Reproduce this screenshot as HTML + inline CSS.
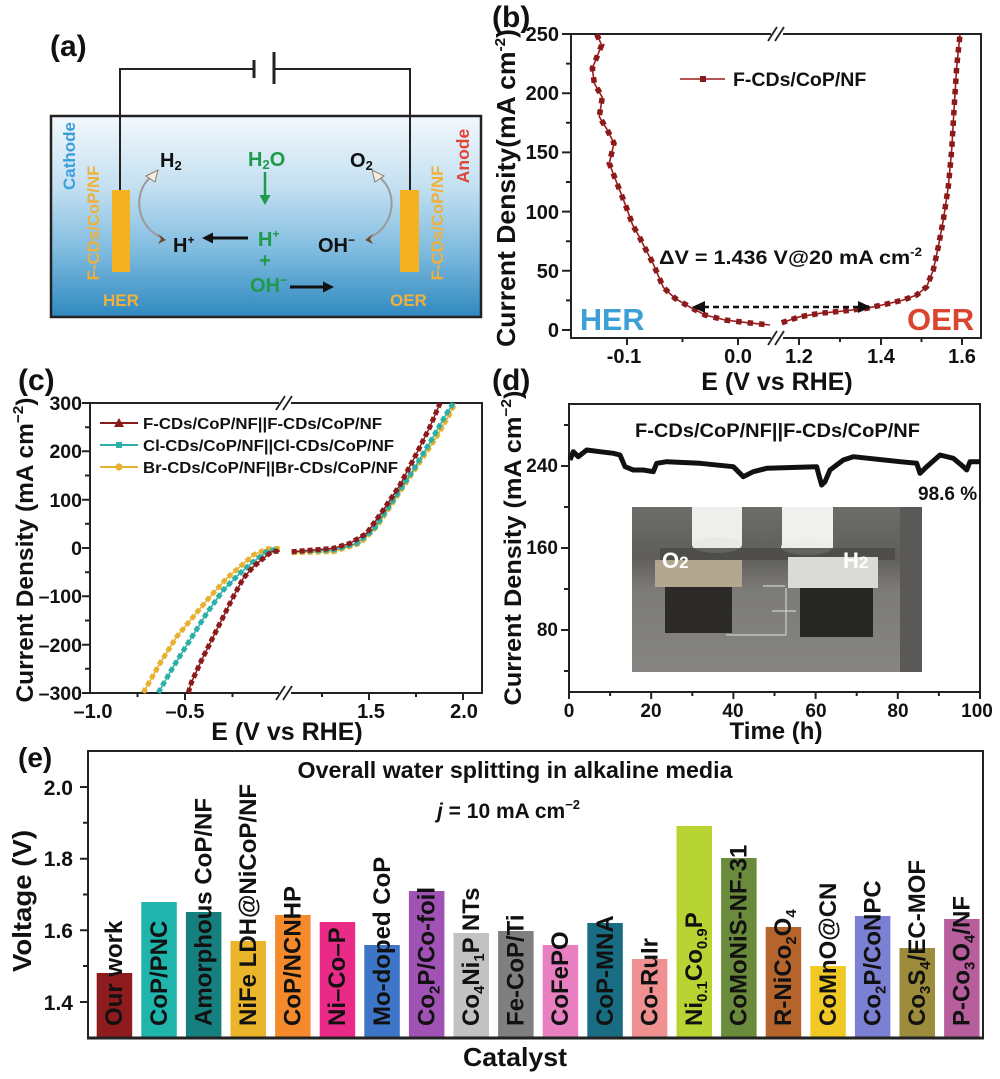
<!DOCTYPE html>
<html><head><meta charset="utf-8"><style>
html,body{margin:0;padding:0;background:#fff;}
svg{display:block;}
text{font-family:"Liberation Sans",Arial,sans-serif;font-weight:bold;fill:#111;}
</style></head><body>
<svg width="1000" height="1079" viewBox="0 0 1000 1079" xmlns="http://www.w3.org/2000/svg">
<defs>
<linearGradient id="water" x1="0" y1="0" x2="0" y2="1">
<stop offset="0" stop-color="#f3f8fc"/>
<stop offset="0.35" stop-color="#c4e0f1"/>
<stop offset="0.65" stop-color="#84bee1"/>
<stop offset="1" stop-color="#2f89c0"/>
</linearGradient>
<linearGradient id="photoBg" x1="0" y1="0" x2="0" y2="1">
<stop offset="0" stop-color="#6e6d69"/>
<stop offset="0.3" stop-color="#5f5e5a"/>
<stop offset="0.5" stop-color="#7c7b77"/>
<stop offset="1" stop-color="#868582"/>
</linearGradient>
</defs>

<!-- ============ PANEL A ============ -->
<text x="50" y="56" font-size="30">(a)</text>
<rect x="51" y="116" width="430" height="201" fill="url(#water)" stroke="#222" stroke-width="2.5"/>
<polyline points="120,190 120,69 254,69" fill="none" stroke="#222" stroke-width="2"/>
<polyline points="274,69 410,69 410,190" fill="none" stroke="#222" stroke-width="2"/>
<line x1="254" y1="60" x2="254" y2="78" stroke="#222" stroke-width="3"/>
<line x1="274" y1="52" x2="274" y2="84" stroke="#222" stroke-width="3"/>
<rect x="112" y="190" width="18" height="82" fill="#f4b223"/>
<rect x="400" y="190" width="19" height="82" fill="#f4b223"/>
<text transform="translate(75,156) rotate(-90)" text-anchor="middle" font-size="17" style="fill:#3b9fdc">Cathode</text>
<text transform="translate(99,223) rotate(-90)" text-anchor="middle" font-size="16.8" style="fill:#f0b03a">F-CDs/CoP/NF</text>
<text transform="translate(443,223) rotate(-90)" text-anchor="middle" font-size="16.8" style="fill:#f0b03a">F-CDs/CoP/NF</text>
<text transform="translate(469,156) rotate(-90)" text-anchor="middle" font-size="17.5" style="fill:#e0453a">Anode</text>
<text x="103" y="306" font-size="17" style="fill:#f0b03a">HER</text>
<text x="390" y="306" font-size="17" style="fill:#f0b03a">OER</text>
<text x="160" y="167" font-size="20">H<tspan font-size="13" dy="3">2</tspan></text>
<text x="248" y="166" font-size="20" style="fill:#1e9a4a">H<tspan font-size="13" dy="3">2</tspan><tspan dy="-3">O</tspan></text>
<line x1="265" y1="172" x2="265" y2="197" stroke="#1e9a4a" stroke-width="2.5"/>
<polygon points="259.5,195 270.5,195 265,205" fill="#1e9a4a"/>
<text x="173" y="252" font-size="20">H<tspan font-size="12" dy="-8">+</tspan></text>
<line x1="248" y1="238" x2="212" y2="238" stroke="#111" stroke-width="3"/>
<polygon points="213,232.5 213,243.5 202,238" fill="#111"/>
<text x="258" y="246" font-size="20" style="fill:#1e9a4a">H<tspan font-size="12" dy="-8">+</tspan></text>
<text x="265" y="267" font-size="20" text-anchor="middle" style="fill:#1e9a4a">+</text>
<text x="250" y="292" font-size="20" style="fill:#1e9a4a">OH<tspan font-size="12" dy="-8">−</tspan></text>
<line x1="290" y1="287" x2="324" y2="287" stroke="#111" stroke-width="3"/>
<polygon points="323,281.5 323,292.5 334,287" fill="#111"/>
<text x="318" y="252" font-size="20">OH<tspan font-size="12" dy="-8">−</tspan></text>
<text x="350" y="167" font-size="20">O<tspan font-size="13" dy="3">2</tspan></text>
<path d="M163,238 C136,228 132,192 151,177" fill="none" stroke="#9a9a9a" stroke-width="2"/>
<polygon points="146,176 158,170 155,182" fill="#f3ece2" stroke="#8a7a6a" stroke-width="1"/>
<polygon points="158,234 166,240 158,244 161,239" fill="#6b4a2e"/>
<path d="M368,238 C395,228 399,192 379,177" fill="none" stroke="#9a9a9a" stroke-width="2"/>
<polygon points="384,176 372,170 375,182" fill="#f3ece2" stroke="#8a7a6a" stroke-width="1"/>
<polygon points="373,234 365,240 373,244 370,239" fill="#6b4a2e"/>

<!-- ============ PANEL B ============ -->
<text x="492" y="27" font-size="30">(b)</text>
<rect x="571" y="34" width="410" height="304" fill="none" stroke="#222" stroke-width="2"/>
<rect x="771" y="29" width="12" height="10" fill="#fff"/>
<rect x="771" y="333" width="12" height="10" fill="#fff"/>
<path d="M768,41 L777,27 M775,41 L784,27 M768,345 L777,331 M775,345 L784,331" stroke="#222" stroke-width="1.8"/>
<path d="M571,330h-9 M571,270.8h-9 M571,211.6h-9 M571,152.4h-9 M571,93.2h-9 M571,34h-9 M571,300.4h-5 M571,241.2h-5 M571,182h-5 M571,122.8h-5 M571,63.6h-5 M627,338v7 M738,338v7 M799,338v7 M881,338v7 M962,338v7 M682.5,338v4 M840,338v4 M921.5,338v4" stroke="#222" stroke-width="2"/>
<g font-size="20" text-anchor="end">
<text x="559" y="337">0</text><text x="559" y="278">50</text><text x="559" y="219">100</text>
<text x="559" y="159">150</text><text x="559" y="100">200</text><text x="559" y="41">250</text>
</g>
<g font-size="20" text-anchor="middle">
<text x="624" y="363">-0.1</text><text x="738" y="363">0.0</text><text x="799" y="363">1.2</text>
<text x="881" y="363">1.4</text><text x="962" y="363">1.6</text>
</g>
<text x="777" y="390" font-size="25" text-anchor="middle">E (V vs RHE)</text>
<text transform="translate(515,188) rotate(-90)" text-anchor="middle" font-size="26" textLength="318" lengthAdjust="spacingAndGlyphs">Current Density(mA cm<tspan font-size="15" dy="-10">-2</tspan><tspan dy="10">)</tspan></text>
<polyline points="596.7,34.3 601.7,45 592.3,68.3 594.3,83.3 602.3,97.3 599.3,116.7 607.3,130 614,143.3 609.3,163.3 615,178.3 620.7,192.7 626.7,208.3 632.7,225 639.3,236.7 646,250 653.3,264 663.3,287.3 675,298.3 689.3,306.7 705,315 725,320 747.3,322.7 770,325" fill="none" stroke="#9b1b1f" stroke-width="1.6"/>
<polyline points="596.7,34.3 601.7,45 592.3,68.3 594.3,83.3 602.3,97.3 599.3,116.7 607.3,130 614,143.3 609.3,163.3 615,178.3 620.7,192.7 626.7,208.3 632.7,225 639.3,236.7 646,250 653.3,264 663.3,287.3 675,298.3 689.3,306.7 705,315 725,320 747.3,322.7 770,325" fill="none" stroke="#8b1a1a" stroke-width="5.5" stroke-dasharray="5.5 6"/>
<polyline points="781.7,322.7 800,316.7 820,313.3 843.3,311 866.7,308.3 886.7,304 903.3,300 916.7,295 926.7,286.7 933.3,270 938.3,246.7 943.3,220 948.3,186.7 951.7,150 954,110 956.7,66.7 960,34.3" fill="none" stroke="#9b1b1f" stroke-width="1.6"/>
<polyline points="781.7,322.7 800,316.7 820,313.3 843.3,311 866.7,308.3 886.7,304 903.3,300 916.7,295 926.7,286.7 933.3,270 938.3,246.7 943.3,220 948.3,186.7 951.7,150 954,110 956.7,66.7 960,34.3" fill="none" stroke="#8b1a1a" stroke-width="5.5" stroke-dasharray="5.5 5"/>
<line x1="680" y1="79" x2="725" y2="79" stroke="#9b1b1f" stroke-width="1.6"/>
<rect x="700" y="76" width="6" height="6" fill="#8b1a1a"/>
<text x="733" y="86" font-size="19.5">F-CDs/CoP/NF</text>
<text x="659" y="264" font-size="19.5" textLength="263" lengthAdjust="spacingAndGlyphs">ΔV = 1.436 V@20 mA cm<tspan font-size="12" dy="-8">-2</tspan></text>
<line x1="703" y1="307" x2="860" y2="307" stroke="#111" stroke-width="2.5" stroke-dasharray="6 4"/>
<polygon points="705,301 705,313 692,307" fill="#111"/>
<polygon points="858,301 858,313 871,307" fill="#111"/>
<text x="580" y="330" font-size="30.5" style="fill:#3c9fd6">HER</text>
<text x="907" y="330" font-size="31" style="fill:#d9452f">OER</text>

<!-- ============ PANEL C ============ -->
<text x="18" y="390" font-size="30">(c)</text>
<rect x="90" y="403" width="392" height="290" fill="none" stroke="#222" stroke-width="2"/>
<rect x="279" y="398" width="12" height="10" fill="#fff"/>
<rect x="279" y="688" width="12" height="10" fill="#fff"/>
<path d="M276,410 L285,396 M283,410 L292,396 M276,700 L285,686 M283,700 L292,686" stroke="#222" stroke-width="1.8"/>
<path d="M90,403h-8 M90,451.3h-8 M90,499.7h-8 M90,548h-8 M90,596.3h-8 M90,644.7h-8 M90,693h-8 M90,427.2h-5 M90,475.5h-5 M90,523.8h-5 M90,572.2h-5 M90,620.5h-5 M90,668.8h-5 M185,693v7 M369,693v7 M463,693v7 M137.5,693v4 M232.5,693v4 M322,693v4 M416,693v4" stroke="#222" stroke-width="2"/>
<g font-size="19.5" text-anchor="end">
<text x="82" y="410">300</text><text x="82" y="458">200</text><text x="82" y="507">100</text>
<text x="82" y="555">0</text><text x="82" y="603">–100</text><text x="82" y="652">–200</text><text x="82" y="700">–300</text>
</g>
<g font-size="20" text-anchor="middle">
<text x="93" y="718">–1.0</text><text x="185" y="718">–0.5</text><text x="371" y="718">1.5</text><text x="464" y="718">2.0</text>
</g>
<text x="287" y="740" font-size="25" text-anchor="middle">E (V vs RHE)</text>
<text transform="translate(33,550) rotate(-90)" text-anchor="middle" font-size="24" textLength="305" lengthAdjust="spacingAndGlyphs">Current Density (mA cm<tspan font-size="15" dy="-10">−2</tspan><tspan dy="10">)</tspan></text>
<!-- Br -->
<g fill="none" stroke="#e8b030">
<polyline stroke-width="1.5" points="143.3,692.7 160,663.3 176.7,636.7 193.3,616.7 210,596.7 226.7,578.3 240,566.7 253.3,555 266.7,549 280,548.3"/>
<polyline stroke-width="5" stroke-dasharray="5 3" points="143.3,692.7 160,663.3 176.7,636.7 193.3,616.7 210,596.7 226.7,578.3 240,566.7 253.3,555 266.7,549 280,548.3"/>
<polyline stroke-width="1.5" points="291.7,552.7 333.3,551.7 360,543.3 376.7,526.7 396.7,496.7 416.7,466.7 436.7,436.7 448.3,416.7 455,403.3"/>
<polyline stroke-width="5" stroke-dasharray="5 3" points="291.7,552.7 333.3,551.7 360,543.3 376.7,526.7 396.7,496.7 416.7,466.7 436.7,436.7 448.3,416.7 455,403.3"/>
</g>
<!-- Cl -->
<g fill="none" stroke="#2ab0a8">
<polyline stroke-width="1.5" points="158.3,692.7 173.3,666.7 190,640 206.7,613.3 223.3,590 240,573.3 253.3,561.7 266.7,551.7 276.7,549"/>
<polyline stroke-width="5" stroke-dasharray="5 3" points="158.3,692.7 173.3,666.7 190,640 206.7,613.3 223.3,590 240,573.3 253.3,561.7 266.7,551.7 276.7,549"/>
<polyline stroke-width="1.5" points="291.7,551.7 333.3,550 356.7,543.3 373.3,530 393.3,500 413.3,470 433.3,436.7 446.7,413.3 453.3,403.3"/>
<polyline stroke-width="5" stroke-dasharray="5 3" points="291.7,551.7 333.3,550 356.7,543.3 373.3,530 393.3,500 413.3,470 433.3,436.7 446.7,413.3 453.3,403.3"/>
</g>
<!-- F -->
<g fill="none" stroke="#8b1a1a">
<polyline stroke-width="1.5" points="188.3,692.7 191.7,681.7 201.7,660 213.3,636.7 223.3,616.7 233.3,596.7 243.3,578.3 253.3,566.7 263.3,558.3 271.7,551.7 280,551"/>
<polyline stroke-width="5" stroke-dasharray="5 3" points="188.3,692.7 191.7,681.7 201.7,660 213.3,636.7 223.3,616.7 233.3,596.7 243.3,578.3 253.3,566.7 263.3,558.3 271.7,551.7 280,551"/>
<polyline stroke-width="1.5" points="291.7,551.7 333.3,548.3 350,543.3 366.7,533.3 383.3,510 400,485 416.7,453.3 430,426.7 440,403.3"/>
<polyline stroke-width="5" stroke-dasharray="5 3" points="291.7,551.7 333.3,548.3 350,543.3 366.7,533.3 383.3,510 400,485 416.7,453.3 430,426.7 440,403.3"/>
</g>
<line x1="100" y1="423" x2="138" y2="423" stroke="#8b1a1a" stroke-width="2"/>
<polygon points="114,427 124,427 119,418" fill="#8b1a1a"/>
<line x1="100" y1="445" x2="138" y2="445" stroke="#2ab0a8" stroke-width="2"/>
<rect x="116" y="442" width="6" height="6" fill="#2ab0a8"/>
<line x1="100" y1="467" x2="138" y2="467" stroke="#e8b030" stroke-width="2"/>
<circle cx="119" cy="467" r="3.6" fill="#e8b030"/>
<g font-size="16">
<text x="143" y="429" textLength="239" lengthAdjust="spacingAndGlyphs">F-CDs/CoP/NF||F-CDs/CoP/NF</text>
<text x="143" y="451" textLength="251" lengthAdjust="spacingAndGlyphs">Cl-CDs/CoP/NF||Cl-CDs/CoP/NF</text>
<text x="143" y="473" textLength="255" lengthAdjust="spacingAndGlyphs">Br-CDs/CoP/NF||Br-CDs/CoP/NF</text>
</g>

<!-- ============ PANEL D ============ -->
<text x="492" y="390" font-size="30">(d)</text>
<rect x="632" y="507" width="290" height="165" fill="url(#photoBg)"/>
<rect x="900" y="507" width="22" height="165" fill="#5a5957"/>
<rect x="692" y="507" width="50" height="38" fill="#eeeeec"/>
<ellipse cx="717" cy="545" rx="25" ry="8" fill="#e8e8e6"/>
<rect x="782" y="507" width="51" height="40" fill="#f0f0ee"/>
<ellipse cx="807" cy="547" rx="26" ry="8" fill="#ececea"/>
<rect x="660" y="548" width="235" height="12" fill="#4b4a47" opacity="0.85"/>
<rect x="655" y="560" width="87" height="27" fill="#b3a78f"/>
<rect x="788" y="557" width="90" height="31" fill="#dadad7"/>
<rect x="665" y="587" width="67" height="46" fill="#2b2a28"/>
<rect x="800" y="588" width="73" height="49" fill="#262624"/>
<path d="M763,586h22 M772,611h24 M726,635h60 M786,588v47" stroke="#cfcfcc" stroke-width="1.2" fill="none"/>
<text x="662" y="568" font-size="22" style="fill:#ffffff">O<tspan font-size="17">2</tspan></text>
<text x="843" y="568" font-size="22" style="fill:#ffffff">H<tspan font-size="17">2</tspan></text>
<rect x="569" y="404" width="411" height="288" fill="none" stroke="#222" stroke-width="2"/>
<path d="M569,466h-8 M569,548h-8 M569,630h-8 M569,425h-5 M569,507h-5 M569,589h-5 M569,671h-5 M569,692v7 M651.2,692v7 M733.4,692v7 M815.6,692v7 M897.8,692v7 M980,692v7 M610.1,692v4 M692.3,692v4 M774.5,692v4 M856.7,692v4 M938.9,692v4" stroke="#222" stroke-width="2"/>
<g font-size="19" text-anchor="end">
<text x="558" y="472">240</text><text x="558" y="554">160</text><text x="558" y="636">80</text>
</g>
<g font-size="19" text-anchor="middle">
<text x="569" y="717">0</text><text x="651" y="717">20</text><text x="733" y="717">40</text>
<text x="816" y="717">60</text><text x="898" y="717">80</text><text x="977" y="717">100</text>
</g>
<text x="776" y="739" font-size="24" text-anchor="middle">Time (h)</text>
<text transform="translate(521,548) rotate(-90)" text-anchor="middle" font-size="24.5" textLength="315" lengthAdjust="spacingAndGlyphs">Current Density (mA cm<tspan font-size="15" dy="-10">−2</tspan><tspan dy="10">)</tspan></text>
<text x="635" y="437" font-size="19" textLength="285" lengthAdjust="spacingAndGlyphs">F-CDs/CoP/NF||F-CDs/CoP/NF</text>
<text x="918" y="500" font-size="19">98.6 %</text>
<polyline fill="none" stroke="#111" stroke-width="5" stroke-linejoin="round" points="570,460 573.3,451.7 578.3,456.7 586.7,450 600,451.7 613.3,453.3 620,455 625,466.7 633.3,470 643.3,470 653.3,471.7 656.7,463.3 666.7,461.7 700,463.3 733.3,466.7 743.3,476.7 753.3,471.7 766.7,468.3 816.7,466.7 819.3,476.7 821.7,485 825,481.7 830,470 843.3,460 853.3,456.7 900,461.7 916.7,463.3 920,473.3 926.7,466.7 940,455 953.3,458.3 963.3,466.7 966.7,470 970,461.7 980,461.7"/>

<!-- ============ PANEL E ============ -->
<text x="18" y="767" font-size="28">(e)</text>
<g>
<rect x="96.7" y="973" width="35.5" height="65" fill="#8e1b1e"/>
<rect x="141.3" y="902" width="35.5" height="136" fill="#1fb5ad"/>
<rect x="185.9" y="912" width="35.5" height="126" fill="#16807f"/>
<rect x="230.5" y="941" width="35.5" height="97" fill="#eab52a"/>
<rect x="275.1" y="915" width="35.5" height="123" fill="#f58a2c"/>
<rect x="319.7" y="922" width="35.5" height="116" fill="#ea2a87"/>
<rect x="364.3" y="945" width="35.5" height="93" fill="#3d75c8"/>
<rect x="408.9" y="891" width="35.5" height="147" fill="#a052b5"/>
<rect x="453.5" y="933" width="35.5" height="105" fill="#c2c2c2"/>
<rect x="498.1" y="931" width="35.5" height="107" fill="#7f7f7f"/>
<rect x="542.7" y="945" width="35.5" height="93" fill="#e87fc1"/>
<rect x="587.3" y="923" width="35.5" height="115" fill="#186d82"/>
<rect x="631.9" y="959" width="35.5" height="79" fill="#ef9191"/>
<rect x="676.5" y="826" width="35.5" height="212" fill="#b8d432"/>
<rect x="721.1" y="858" width="35.5" height="180" fill="#6a8b3b"/>
<rect x="765.7" y="927" width="35.5" height="111" fill="#b5652b"/>
<rect x="810.3" y="966" width="35.5" height="72" fill="#f0c925"/>
<rect x="854.9" y="916" width="35.5" height="122" fill="#7c80d3"/>
<rect x="899.5" y="948" width="35.5" height="90" fill="#9c8c3c"/>
<rect x="944.1" y="919" width="35.5" height="119" fill="#b95e9c"/>
</g>
<g font-size="24">
<text transform="translate(122,1026) rotate(-90)">Our work</text>
<text transform="translate(167,1026) rotate(-90)">CoP/PNC</text>
<text transform="translate(211.5,1026) rotate(-90)">Amorphous CoP/NF</text>
<text transform="translate(256,1026) rotate(-90)">NiFe LDH@NiCoP/NF</text>
<text transform="translate(300.5,1026) rotate(-90)">CoP/NCNHP</text>
<text transform="translate(345,1026) rotate(-90)">Ni–Co–P</text>
<text transform="translate(390,1026) rotate(-90)">Mo-doped CoP</text>
<text transform="translate(434.5,1026) rotate(-90)">Co<tspan font-size="15" dy="5">2</tspan><tspan dy="-5">P/Co-foil</tspan></text>
<text transform="translate(479,1026) rotate(-90)">Co<tspan font-size="15" dy="5">4</tspan><tspan dy="-5">Ni</tspan><tspan font-size="15" dy="5">1</tspan><tspan dy="-5">P NTs</tspan></text>
<text transform="translate(523.5,1026) rotate(-90)">Fe-CoP/Ti</text>
<text transform="translate(568,1026) rotate(-90)">CoFePO</text>
<text transform="translate(613,1026) rotate(-90)">CoP-MNA</text>
<text transform="translate(657.5,1026) rotate(-90)">Co-RuIr</text>
<text transform="translate(702,1026) rotate(-90)">Ni<tspan font-size="15" dy="5">0.1</tspan><tspan dy="-5">Co</tspan><tspan font-size="15" dy="5">0.9</tspan><tspan dy="-5">P</tspan></text>
<text transform="translate(746.5,1026) rotate(-90)">CoMoNiS-NF-31</text>
<text transform="translate(791,1026) rotate(-90)">R-NiCo<tspan font-size="15" dy="5">2</tspan><tspan dy="-5">O</tspan><tspan font-size="15" dy="5">4</tspan></text>
<text transform="translate(836,1026) rotate(-90)">CoMnO@CN</text>
<text transform="translate(880.5,1026) rotate(-90)">Co<tspan font-size="15" dy="5">2</tspan><tspan dy="-5">P/CoNPC</tspan></text>
<text transform="translate(925,1026) rotate(-90)">Co<tspan font-size="15" dy="5">3</tspan><tspan dy="-5">S</tspan><tspan font-size="15" dy="5">4</tspan><tspan dy="-5">/EC-MOF</tspan></text>
<text transform="translate(969.5,1026) rotate(-90)">P-Co<tspan font-size="15" dy="5">3</tspan><tspan dy="-5">O</tspan><tspan font-size="15" dy="5">4</tspan><tspan dy="-5">/NF</tspan></text>
</g>
<rect x="88" y="751" width="895" height="287" fill="none" stroke="#222" stroke-width="2"/>
<line x1="87" y1="1038" x2="984" y2="1038" stroke="#222" stroke-width="3"/>
<path d="M88,787h-8 M88,858.7h-8 M88,930.3h-8 M88,1002h-8 M88,822.8h-5 M88,894.5h-5 M88,966h-5" stroke="#222" stroke-width="2"/>
<g font-size="21" text-anchor="end">
<text x="73" y="795">2.0</text><text x="73" y="866">1.8</text><text x="73" y="938">1.6</text><text x="73" y="1010">1.4</text>
</g>
<text transform="translate(31,901) rotate(-90)" text-anchor="middle" font-size="26" textLength="142" lengthAdjust="spacingAndGlyphs">Voltage (V)</text>
<text x="515" y="778" font-size="23" text-anchor="middle" textLength="435" lengthAdjust="spacingAndGlyphs">Overall water splitting in alkaline media</text>
<text x="437" y="818" font-size="21"><tspan font-style="italic">j</tspan> = 10 mA cm<tspan font-size="13" dy="-9">−2</tspan></text>
<text x="515" y="1066" font-size="26" text-anchor="middle" textLength="104" lengthAdjust="spacingAndGlyphs">Catalyst</text>
</svg>
</body></html>
